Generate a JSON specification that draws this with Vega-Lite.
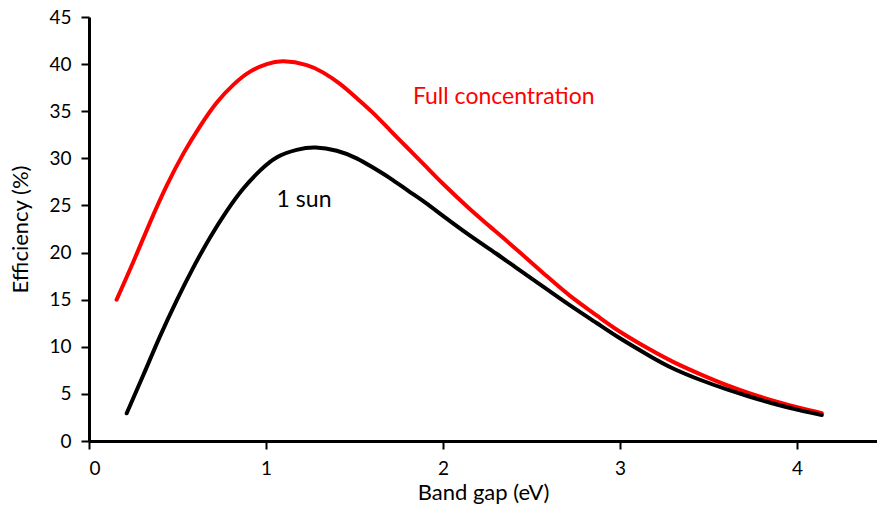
{
  "$schema": "https://vega.github.io/schema/vega-lite/v6.json",
  "width": 788,
  "height": 424,
  "autosize": "none",
  "padding": {"left": 89, "top": 17, "right": 0, "bottom": 72},
  "background": "white",
  "config": {
    "view": {"stroke": null},
    "font": "Lato",
    "axis": {"labelFont": "Lato", "titleFont": "Lato", "labelFontSize": 19, "titleFontSize": 22, "labelColor": "#000", "titleColor": "#000", "titleFontWeight": "normal", "grid": false, "domainColor": "#000", "domainWidth": 3, "tickColor": "#000", "tickWidth": 2, "tickSize": 8}
  },
  "datasets": {
    "curves": [
      {"series": "full", "eg": 0.156, "eff": 15.0},
      {"series": "full", "eg": 0.25, "eff": 19.0},
      {"series": "full", "eg": 0.345, "eff": 23.2},
      {"series": "full", "eg": 0.439, "eff": 27.1},
      {"series": "full", "eg": 0.533, "eff": 30.5},
      {"series": "full", "eg": 0.627, "eff": 33.4},
      {"series": "full", "eg": 0.721, "eff": 35.9},
      {"series": "full", "eg": 0.815, "eff": 37.8},
      {"series": "full", "eg": 0.91, "eff": 39.2},
      {"series": "full", "eg": 1.004, "eff": 40.0},
      {"series": "full", "eg": 1.10, "eff": 40.3},
      {"series": "full", "eg": 1.23, "eff": 39.9},
      {"series": "full", "eg": 1.324, "eff": 39.1},
      {"series": "full", "eg": 1.418, "eff": 37.9},
      {"series": "full", "eg": 1.512, "eff": 36.4},
      {"series": "full", "eg": 1.606, "eff": 34.8},
      {"series": "full", "eg": 1.70, "eff": 33.0},
      {"series": "full", "eg": 1.80, "eff": 31.1},
      {"series": "full", "eg": 1.90, "eff": 29.2},
      {"series": "full", "eg": 2.0, "eff": 27.3},
      {"series": "full", "eg": 2.153, "eff": 24.6},
      {"series": "full", "eg": 2.3, "eff": 22.2},
      {"series": "full", "eg": 2.435, "eff": 20.0},
      {"series": "full", "eg": 2.58, "eff": 17.6},
      {"series": "full", "eg": 2.718, "eff": 15.4},
      {"series": "full", "eg": 2.87, "eff": 13.3},
      {"series": "full", "eg": 3.0, "eff": 11.6},
      {"series": "full", "eg": 3.17, "eff": 9.7},
      {"series": "full", "eg": 3.3, "eff": 8.4},
      {"series": "full", "eg": 3.452, "eff": 7.1},
      {"series": "full", "eg": 3.6, "eff": 5.95},
      {"series": "full", "eg": 3.734, "eff": 5.05},
      {"series": "full", "eg": 3.88, "eff": 4.2},
      {"series": "full", "eg": 4.017, "eff": 3.5},
      {"series": "full", "eg": 4.14, "eff": 2.95},
      {"series": "one", "eg": 0.213, "eff": 2.94},
      {"series": "one", "eg": 0.307, "eff": 7.0},
      {"series": "one", "eg": 0.401, "eff": 11.1},
      {"series": "one", "eg": 0.495, "eff": 14.9},
      {"series": "one", "eg": 0.589, "eff": 18.4},
      {"series": "one", "eg": 0.684, "eff": 21.6},
      {"series": "one", "eg": 0.778, "eff": 24.4},
      {"series": "one", "eg": 0.872, "eff": 26.8},
      {"series": "one", "eg": 0.966, "eff": 28.7},
      {"series": "one", "eg": 1.06, "eff": 30.1},
      {"series": "one", "eg": 1.173, "eff": 30.9},
      {"series": "one", "eg": 1.28, "eff": 31.15},
      {"series": "one", "eg": 1.40, "eff": 30.8},
      {"series": "one", "eg": 1.512, "eff": 30.0},
      {"series": "one", "eg": 1.606, "eff": 29.0},
      {"series": "one", "eg": 1.70, "eff": 27.9},
      {"series": "one", "eg": 1.80, "eff": 26.6},
      {"series": "one", "eg": 1.90, "eff": 25.3},
      {"series": "one", "eg": 2.0, "eff": 23.9},
      {"series": "one", "eg": 2.153, "eff": 21.8},
      {"series": "one", "eg": 2.3, "eff": 19.9},
      {"series": "one", "eg": 2.435, "eff": 18.1},
      {"series": "one", "eg": 2.58, "eff": 16.2},
      {"series": "one", "eg": 2.718, "eff": 14.4},
      {"series": "one", "eg": 2.87, "eff": 12.5},
      {"series": "one", "eg": 3.0, "eff": 10.9},
      {"series": "one", "eg": 3.17, "eff": 9.0},
      {"series": "one", "eg": 3.3, "eff": 7.7},
      {"series": "one", "eg": 3.452, "eff": 6.5},
      {"series": "one", "eg": 3.6, "eff": 5.5},
      {"series": "one", "eg": 3.734, "eff": 4.7},
      {"series": "one", "eg": 3.88, "eff": 3.9},
      {"series": "one", "eg": 4.017, "eff": 3.25},
      {"series": "one", "eg": 4.14, "eff": 2.75}
    ],
    "labels": [
      {"eg": 1.83, "eff": 36.5, "text": "Full concentration", "series": "full"},
      {"eg": 1.06, "eff": 25.6, "text": "1 sun", "series": "one"}
    ]
  },
  "layer": [
    {
      "mark": {"type": "rule", "color": "#000", "strokeWidth": 3},
      "encoding": {"y": {"datum": 45, "type": "quantitative"}}
    },
    {
      "data": {"name": "curves"},
      "mark": {"type": "line", "strokeWidth": 4, "interpolate": "natural", "strokeCap": "round"},
      "encoding": {
        "x": {"field": "eg", "type": "quantitative", "scale": {"domain": [0, 4.452], "nice": false, "zero": false}, "axis": {"title": "Band gap (eV)", "values": [0, 1, 2, 3, 4], "format": "d", "labelPadding": 10, "titlePadding": 4}},
        "y": {"field": "eff", "type": "quantitative", "scale": {"domain": [0, 45], "nice": false}, "axis": {"title": "Efficiency (%)", "values": [0, 5, 10, 15, 20, 25, 30, 35, 40, 45], "labelPadding": 10, "titlePadding": 16}},
        "color": {"field": "series", "type": "nominal", "scale": {"domain": ["full", "one"], "range": ["#ff0000", "#000000"]}, "legend": null},
        "order": {"field": "series", "sort": "descending"}
      }
    },
    {
      "data": {"name": "labels"},
      "mark": {"type": "text", "align": "left", "baseline": "middle", "fontSize": 23, "font": "Lato"},
      "encoding": {
        "x": {"field": "eg", "type": "quantitative"},
        "y": {"field": "eff", "type": "quantitative"},
        "text": {"field": "text"},
        "color": {"field": "series", "type": "nominal", "legend": null}
      }
    }
  ]
}
